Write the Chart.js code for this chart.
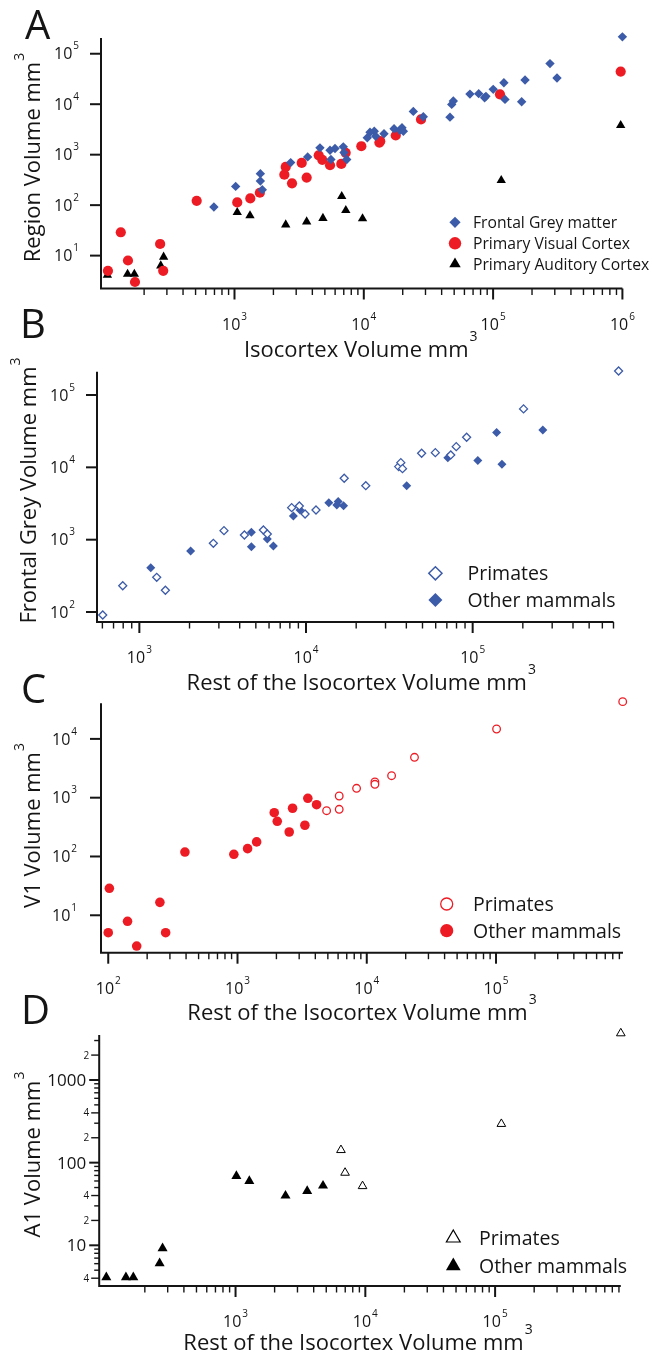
<!DOCTYPE html>
<html>
<head>
<meta charset="utf-8">
<script src="https://cdn.jsdelivr.net/npm/chart.js@4.4.1/dist/chart.umd.min.js"></script>
<style>
html,body{margin:0;padding:0;background:#ffffff;}
#wrap{position:relative;width:652px;height:1357px;overflow:hidden;background:#fff;}
#wrap canvas{position:absolute;left:0;top:0;}
</style>
</head>
<body>
<div id="wrap">
<canvas id="cA" width="652" height="1357"></canvas>
<canvas id="cB" width="652" height="1357"></canvas>
<canvas id="cC" width="652" height="1357"></canvas>
<canvas id="cD" width="652" height="1357"></canvas>
</div>
<script>
// ---------------- Panel A: region volume vs isocortex volume ----------------
const aFrontalIso = [693,1021,1585,1585,1640,2720,3680,4580,5480,5990,5570,6940,7030,7380,10640,11170,12050,12360,14330,17140,19000,19740,20230,24150,28860,46400,47860,49250,66200,77400,86000,88000,100200,121200,123600,166300,176600,275400,312000,1000000];
const aFrontalVol = [92,235,421,301,202,697,903,1365,1224,1322,800,1430,1100,800,2160,2790,2920,2320,2590,3260,3050,3410,2920,7200,5640,5540,9910,11540,15870,16170,13460,14300,19690,26700,12450,11220,30100,63800,33000,216000];
const aV1Iso = [105,132,150,170,266,281,510,1050,1325,1570,2430,2490,2785,3310,3615,4480,4775,5480,6700,7240,9570,13200,13400,17660,27700,113000,970000];
const aV1Vol = [5.0,29,8,3.0,17,5,122,113,136,176,402,571,270,687,351,973,789,617,656,1087,1470,1740,1850,2400,4990,15670,44300];
const aA1Iso = [104,149,168,269,283,1050,1318,2490,3615,4830,6750,7260,9780,115600,970000];
const aA1Vol = [4.1,4.3,4.3,6.3,9.4,72,62,41,47,55,149,79,54,310,3800];
const aXTicks = [1e3,1e4,1e5,1e6];
const aXLabels = ['10^3','10^4','10^5','10^6'];
const aYTicks = [1e1,1e2,1e3,1e4,1e5];
const aYLabels = ['10^1','10^2','10^3','10^4','10^5'];

// ---------------- Panel B: frontal grey vs rest of isocortex ----------------
const bPrimRest = [603,795,1271,1433,2780,3220,4270,5550,5860,8200,9120,9870,11480,16950,22840,35970,37060,37930,49400,59700,73900,79700,92000,202000,751000];
const bPrimFG = [91,231,302,200,891,1333,1161,1361,1199,2773,2927,2265,2570,7060,5580,10240,11610,9590,15670,15960,14850,19330,26070,64300,215000];
const bOthRest = [1171,2030,4700,4700,5860,6370,8400,9200,13700,15600,15300,16800,40180,70950,107400,139300,149900,263600];
const bOthFG = [410,698,1265,800,1024,818,2130,2570,3250,3360,3020,2950,5580,13620,12390,30200,11040,32900];
const bXTicks = [1e3,1e4,1e5];
const bXLabels = ['10^3','10^4','10^5'];
const bYTicks = [1e2,1e3,1e4,1e5];
const bYLabels = ['10^2','10^3','10^4','10^5'];

// ---------------- Panel C: V1 vs rest of isocortex ----------------
const cPrimRest = [4890,6120,6120,8340,11560,11560,15560,23400,101000,955000];
const cPrimV1 = [601,1069,635,1445,1850,1690,2366,4860,14720,43000];
const cOthRest = [100,102,141,166,251,278,392,937,1197,1406,1924,2030,2512,2667,3321,3500,4090];
const cOthV1 = [5.06,28.8,7.9,3.0,16.6,5.06,119,109,136,177,556,397,261,661,340,977,760];
const cXTicks = [1e2,1e3,1e4,1e5];
const cXLabels = ['10^2','10^3','10^4','10^5'];
const cYTicks = [1e1,1e2,1e3,1e4];
const cYLabels = ['10^1','10^2','10^3','10^4'];

// ---------------- Panel D: A1 vs rest of isocortex ----------------
const dPrimRest = [6490,6980,9520,111700,930000];
const dPrimA1 = [142,75.5,52,294,3670];
const dOthRest = [101,143,163,260,274,1015,1277,2426,3565,4720];
const dOthA1 = [4.1,4.1,4.1,6.05,9.2,68.8,60,39.8,45.4,52.6];
const dXTicks = [1e3,1e4,1e5];
const dXLabels = ['10^3','10^4','10^5'];
const dYTicks = [4,10,20,40,100,200,400,1000,2000];
const dYLabels = ['4','10','2','4','100','2','4','1000','2'];

// ---------------- styling / helpers ----------------
const W = 652, H = 1357;
const FONT = '"Open Sans", "DejaVu Sans", sans-serif';
const BLUE = '#3c5ba8', RED = '#ed1c24', BLACK = '#000000', INK = '#151515';

const pts = (xs, ys) => xs.map((x, i) => ({x: x, y: ys[i]}));

function logTicks(lo, hi) {
  const out = [];
  for (let e = Math.floor(Math.log10(lo)) - 1; e <= Math.ceil(Math.log10(hi)); e++) {
    for (let m = 1; m <= 9; m++) {
      const v = m * Math.pow(10, e);
      if (v >= lo * 0.999 && v <= hi * 1.001) out.push({v: v, major: m === 1});
    }
  }
  return out;
}

function supText(ctx, label, x, y, align, bSize, sSize, rise) {
  const parts = String(label).split('^');
  const base = parts[0], sup = parts[1] || '';
  ctx.font = bSize + 'px ' + FONT;
  const wb = ctx.measureText(base).width;
  ctx.font = sSize + 'px ' + FONT;
  const ws = sup ? ctx.measureText(sup).width : 0;
  const gap = sup ? 1 : 0;
  const w = wb + gap + ws;
  const x0 = align === 'center' ? x - w / 2 : (align === 'right' ? x - w : x);
  ctx.textAlign = 'left';
  ctx.textBaseline = 'alphabetic';
  ctx.font = bSize + 'px ' + FONT;
  ctx.fillText(base, x0, y);
  if (sup) {
    ctx.font = sSize + 'px ' + FONT;
    ctx.fillText(sup, x0 + wb + gap, y - rise);
  }
}

function drawMarker(ctx, style, x, y, r, fill, stroke, lw) {
  ctx.beginPath();
  if (style === 'circle') {
    ctx.arc(x, y, r, 0, Math.PI * 2);
  } else if (style === 'rectRot') {
    ctx.moveTo(x - r, y); ctx.lineTo(x, y - r); ctx.lineTo(x + r, y); ctx.lineTo(x, y + r); ctx.closePath();
  } else {
    ctx.moveTo(x, y - r); ctx.lineTo(x + 0.866 * r, y + 0.5 * r); ctx.lineTo(x - 0.866 * r, y + 0.5 * r); ctx.closePath();
  }
  ctx.fillStyle = fill; ctx.fill();
  if (lw > 0) { ctx.lineWidth = lw; ctx.strokeStyle = stroke; ctx.stroke(); }
}

function makeDecor(p) {
  return {
    id: 'decor' + p.letter,
    beforeDatasetsDraw(chart) {
      const ctx = chart.ctx, a = chart.chartArea, xs = chart.scales.x, ys = chart.scales.y;
      ctx.save();
      ctx.strokeStyle = INK; ctx.fillStyle = INK; ctx.lineCap = 'butt';
      // x tick marks
      for (const t of logTicks(p.xTickMin, p.xTickMax)) {
        const px = xs.getPixelForValue(t.v);
        ctx.lineWidth = t.major ? 2 : 1.4;
        ctx.beginPath(); ctx.moveTo(px, a.bottom); ctx.lineTo(px, a.bottom + (t.major ? 11 : 6.5)); ctx.stroke();
      }
      // y tick marks
      if (p.yMinor) {
        for (const t of logTicks(p.yTickMin, p.yTickMax)) {
          const py = ys.getPixelForValue(t.v);
          const labelled = p.yTicks.indexOf(t.v) >= 0;
          const len = t.major ? 10 : (labelled ? 8 : 5);
          ctx.lineWidth = t.major ? 2 : 1.4;
          ctx.beginPath(); ctx.moveTo(a.left, py); ctx.lineTo(a.left - len, py); ctx.stroke();
        }
      } else {
        for (const v of p.yTicks) {
          const py = ys.getPixelForValue(v);
          ctx.lineWidth = 2;
          ctx.beginPath(); ctx.moveTo(a.left, py); ctx.lineTo(a.left - 11, py); ctx.stroke();
        }
      }
      // axis lines
      ctx.lineWidth = 2; ctx.lineJoin = 'miter';
      ctx.beginPath(); ctx.moveTo(a.left, a.top); ctx.lineTo(a.left, a.bottom); ctx.lineTo(a.right, a.bottom); ctx.stroke();
      // x tick labels
      ctx.fillStyle = INK;
      p.xTicks.forEach((v, i) => {
        supText(ctx, p.xLabels[i], xs.getPixelForValue(v), a.bottom + 41, 'center', 16, 10, 10);
      });
      // y tick labels
      p.yTicks.forEach((v, i) => {
        const py = ys.getPixelForValue(v);
        const lab = p.yLabels[i];
        if (p.yMinor) {
          const big = lab.length > 1;
          if (big) supText(ctx, lab, a.left - 13, py + 6, 'right', 17, 10, 10);
          else supText(ctx, lab, a.left - 10, py + 3.6, 'right', 10, 8, 8);
        } else {
          supText(ctx, lab, a.left - p.yLabelGap, py + 5.7, 'right', 16, 10, 10);
        }
      });
      // x axis title
      supText(ctx, p.xTitle, (a.left + a.right) / 2 + p.xTitleDx, a.bottom + p.xTitleDy, 'center', 22, 14, 16);
      // y axis title (rotated)
      ctx.save();
      ctx.translate(p.yTitleX, p.yTitleY);
      ctx.rotate(-Math.PI / 2);
      supText(ctx, p.yTitle, 0, 0, 'center', 22, 14, 16);
      ctx.restore();
      // panel letter
      ctx.font = '40px ' + FONT; ctx.textAlign = 'left'; ctx.textBaseline = 'alphabetic';
      ctx.fillText(p.letter, p.letterX, p.letterY);
      ctx.restore();
    },
    afterDatasetsDraw(chart) {
      const ctx = chart.ctx, L = p.legend;
      ctx.save();
      L.rows.forEach((row, i) => {
        const ds = chart.data.datasets[row.ds];
        drawMarker(ctx, ds.pointStyle, L.mx, row.y, row.r, ds.pointBackgroundColor, ds.pointBorderColor, ds.pointBorderWidth ? L.lw : 0);
        ctx.fillStyle = INK; ctx.font = L.size + 'px ' + FONT; ctx.textAlign = 'left'; ctx.textBaseline = 'alphabetic';
        ctx.fillText(ds.label, L.tx, row.y + L.size * 0.36);
      });
      ctx.restore();
    }
  };
}

function ds(label, data, style, r, fill, stroke, lw) {
  return {label: label, data: data, pointStyle: style, pointRadius: r, pointHoverRadius: r,
    pointBackgroundColor: fill, pointBorderColor: stroke, pointBorderWidth: lw, showLine: false, clip: false};
}

function makeChart(id, datasets, area, xr, yr, decor) {
  return new Chart(document.getElementById(id), {
    type: 'scatter',
    data: {datasets: datasets},
    options: {
      responsive: false, animation: false, devicePixelRatio: 1, events: [],
      layout: {autoPadding: false, padding: {left: area.l, top: area.t, right: W - area.r, bottom: H - area.b}},
      plugins: {legend: {display: false}, tooltip: {enabled: false}},
      scales: {
        x: {type: 'logarithmic', min: xr[0], max: xr[1], grid: {display: false}, border: {display: false},
            ticks: {display: false}, title: {display: false}, afterFit: s => { s.height = 0; }},
        y: {type: 'logarithmic', min: yr[0], max: yr[1], grid: {display: false}, border: {display: false},
            ticks: {display: false}, title: {display: false}, afterFit: s => { s.width = 0; }}
      }
    },
    plugins: [decor]
  });
}

// ---------------- Panel A ----------------
makeChart('cA', [
  ds('Frontal Grey matter', pts(aFrontalIso, aFrontalVol), 'rectRot', 4.7, BLUE, BLUE, 0),
  ds('Primary Visual Cortex', pts(aV1Iso, aV1Vol), 'circle', 5.1, RED, RED, 0),
  ds('Primary Auditory Cortex', pts(aA1Iso, aA1Vol), 'triangle', 5.4, BLACK, BLACK, 0)
], {l: 101, r: 622.4, t: 38, b: 288.5}, [92.8, 1e6], [2.23, 2.05e5], makeDecor({
  letter: 'A', letterX: 25, letterY: 39.3,
  xTickMin: 200, xTickMax: 1e6, xTicks: aXTicks, xLabels: aXLabels,
  yTicks: aYTicks, yLabels: aYLabels, yMinor: false, yLabelGap: 22,
  xTitle: 'Isocortex Volume mm^3', xTitleDx: -1, xTitleDy: 68,
  yTitle: 'Region Volume mm^3', yTitleX: 40, yTitleY: 157.5,
  legend: {mx: 455, tx: 473, size: 15.7, lw: 0, rows: [
    {ds: 0, y: 222.3, r: 5.6}, {ds: 1, y: 243.3, r: 6.2}, {ds: 2, y: 264, r: 6.6}]}
}));

// ---------------- Panel B ----------------
makeChart('cB', [
  ds('Primates', pts(bPrimRest, bPrimFG), 'rectRot', 4.0, '#ffffff', BLUE, 1.3),
  ds('Other mammals', pts(bOthRest, bOthFG), 'rectRot', 4.5, BLUE, BLUE, 0)
], {l: 97, r: 613.5, t: 371.7, b: 622}, [557, 7e5], [72.8, 2.1e5], makeDecor({
  letter: 'B', letterX: 20, letterY: 338,
  xTickMin: 600, xTickMax: 7e5, xTicks: bXTicks, xLabels: bXLabels,
  yTicks: bYTicks, yLabels: bYLabels, yMinor: false, yLabelGap: 22,
  xTitle: 'Rest of the Isocortex Volume mm^3', xTitleDx: 6, xTitleDy: 68,
  yTitle: 'Frontal Grey Volume mm^3', yTitleX: 36, yTitleY: 490.5,
  legend: {mx: 435.4, tx: 467.5, size: 19.5, lw: 1.5, rows: [
    {ds: 0, y: 573.3, r: 6.6}, {ds: 1, y: 600, r: 7}]}
}));

// ---------------- Panel C ----------------
makeChart('cC', [
  ds('Primates', pts(cPrimRest, cPrimV1), 'circle', 3.8, '#ffffff', RED, 1.3),
  ds('Other mammals', pts(cOthRest, cOthV1), 'circle', 4.8, RED, RED, 0)
], {l: 101, r: 623, t: 703.3, b: 952.7}, [87.9, 9.6e5], [2.31, 40300], makeDecor({
  letter: 'C', letterX: 21, letterY: 702.7,
  xTickMin: 100, xTickMax: 9e5, xTicks: cXTicks, xLabels: cXLabels,
  yTicks: cYTicks, yLabels: cYLabels, yMinor: false, yLabelGap: 24,
  xTitle: 'Rest of the Isocortex Volume mm^3', xTitleDx: 0, xTitleDy: 67,
  yTitle: 'V1 Volume mm^3', yTitleX: 40, yTitleY: 825.5,
  legend: {mx: 446.7, tx: 473, size: 19.5, lw: 1.3, rows: [
    {ds: 0, y: 904, r: 6}, {ds: 1, y: 930.7, r: 6.6}]}
}));

// ---------------- Panel D ----------------
makeChart('cD', [
  ds('Primates', pts(dPrimRest, dPrimA1), 'triangle', 5.0, '#ffffff', BLACK, 1.0),
  ds('Other mammals', pts(dOthRest, dOthA1), 'triangle', 5.8, BLACK, BLACK, 0)
], {l: 99.2, r: 620.8, t: 1035, b: 1286}, [89, 9.3e5], [3.22, 3500], makeDecor({
  letter: 'D', letterX: 21, letterY: 1024,
  xTickMin: 200, xTickMax: 9e5, xTicks: dXTicks, xLabels: dXLabels,
  yTicks: dYTicks, yLabels: dYLabels, yMinor: true, yTickMin: 4, yTickMax: 3000, yLabelGap: 13,
  xTitle: 'Rest of the Isocortex Volume mm^3', xTitleDx: -2, xTitleDy: 64,
  yTitle: 'A1 Volume mm^3', yTitleX: 40, yTitleY: 1154.5,
  legend: {mx: 453.3, tx: 479, size: 19.5, lw: 1.2, rows: [
    {ds: 0, y: 1238, r: 8}, {ds: 1, y: 1266, r: 8.5}]}
}));
</script>
</body>
</html>
